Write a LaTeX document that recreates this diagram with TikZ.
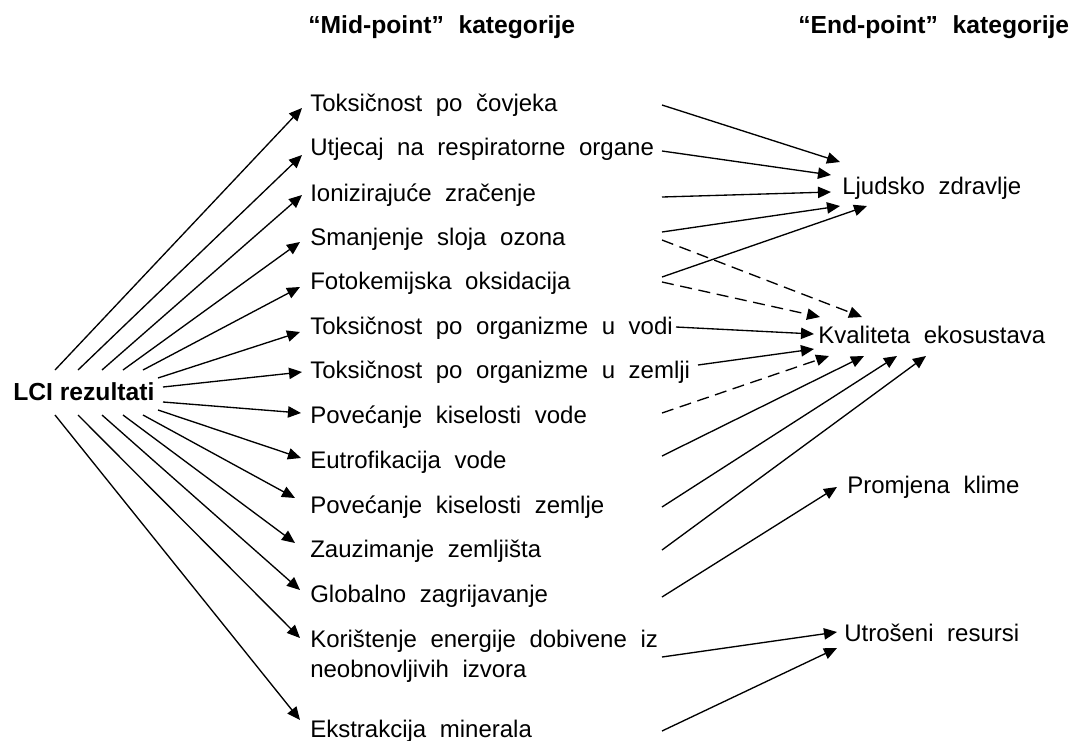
\documentclass[tikz,border=0pt]{standalone}
\usepackage{fontspec}
\setmainfont{Liberation Sans}
\usetikzlibrary{arrows.meta}
\newcommand\mybodyfont{\fontsize{18}{22.5}\selectfont\spaceskip 10.2pt\relax}
\newcommand\myheadfont{\fontsize{18.5}{22}\selectfont\bfseries\spaceskip 11pt\relax}
\tikzset{
  body/.style={anchor=base west, inner sep=0pt, font=\mybodyfont},
  head/.style={anchor=base west, inner sep=0pt, font=\myheadfont},
  arr/.style={line width=1pt, -{Triangle[length=9.75pt,width=8.5pt]}},
  dsh/.style={arr, dash pattern=on 9pt off 5pt}
}
\begin{document}
\begin{tikzpicture}[x=0.75pt,y=-0.75pt]
\useasboundingbox (0,0) rectangle (1072,740);
% headings
\node[head] (h1) at (308,33) {“Mid-point” kategorije};
\node[head] (h2) at (798,33) {“End-point” kategorije};
% LCI
\node[anchor=base west, inner sep=0pt, font=\fontsize{18.5}{22}\selectfont\bfseries] (lci) at (13,400) {LCI rezultati};
% mid-point nodes
\node[body] (m1) at (310,111) {Toksičnost po čovjeka};
\node[body] (m2) at (310,155) {Utjecaj na respiratorne organe};
\node[body] (m3) at (310,201) {Ionizirajuće zračenje};
\node[body] (m4) at (310,245) {Smanjenje sloja ozona};
\node[body] (m5) at (310,289) {Fotokemijska oksidacija};
\node[body] (m6) at (310,334) {Toksičnost po organizme u vodi};
\node[body] (m7) at (310,378) {Toksičnost po organizme u zemlji};
\node[body] (m8) at (310,423) {Povećanje kiselosti vode};
\node[body] (m9) at (310,468) {Eutrofikacija vode};
\node[body] (m10) at (310,513) {Povećanje kiselosti zemlje};
\node[body] (m11) at (310,557) {Zauzimanje zemljišta};
\node[body] (m12) at (310,602) {Globalno zagrijavanje};
\node[body, align=left] (m13) at (310,677) {Korištenje energije dobivene iz\\neobnovljivih izvora};
\node[body] (m14) at (310,737) {Ekstrakcija minerala};
% end-point nodes
\node[body] (e1) at (842,194) {Ljudsko zdravlje};
\node[body] (e2) at (818,343) {Kvaliteta ekosustava};
\node[body] (e3) at (847,493) {Promjena klime};
\node[body] (e4) at (844,641) {Utrošeni resursi};
% LCI -> mid-points
\draw[arr] ([shift={(42,-30)}]lci.base west) -- ([shift={(-8,-3)}]m1.base west);
\draw[arr] ([shift={(65,-30)}]lci.base west) -- ([shift={(-8,0)}]m2.base west);
\draw[arr] ([shift={(89,-30)}]lci.base west) -- ([shift={(-8,-6)}]m3.base west);
\draw[arr] ([shift={(110,-30)}]lci.base west) -- ([shift={(-10,-3)}]m4.base west);
\draw[arr] ([shift={(130,-30)}]lci.base west) -- ([shift={(-10,-2)}]m5.base west);
\draw[arr] ([shift={(145,-22)}]lci.base west) -- ([shift={(-10,-2)}]m6.base west);
\draw[arr] ([shift={(150,-13)}]lci.base west) -- ([shift={(-8,-6)}]m7.base west);
\draw[arr] ([shift={(150,2)}]lci.base west) -- ([shift={(-9,-10)}]m8.base west);
\draw[arr] ([shift={(145,10)}]lci.base west) -- ([shift={(-9,-10)}]m9.base west);
\draw[arr] ([shift={(130,15)}]lci.base west) -- ([shift={(-15,-15)}]m10.base west);
\draw[arr] ([shift={(110,15)}]lci.base west) -- ([shift={(-15,-14)}]m11.base west);
\draw[arr] ([shift={(89,15)}]lci.base west) -- ([shift={(-10,-12)}]m12.base west);
\draw[arr] ([shift={(65,15)}]lci.base west) -- ([shift={(-10,-39)}]m13.base west);
\draw[arr] ([shift={(42,15)}]lci.base west) -- ([shift={(-10,-17)}]m14.base west);
% mid-points -> Ljudsko zdravlje
\draw[arr] ([shift={(352,-6)}]m1.base west) -- ([shift={(-2,-32)}]e1.base west);
\draw[arr] ([shift={(352,-4)}]m2.base west) -- ([shift={(-11,-19)}]e1.base west);
\draw[arr] ([shift={(352,-4)}]m3.base west) -- ([shift={(-11,-2)}]e1.base west);
\draw[arr] ([shift={(352,-13)}]m4.base west) -- ([shift={(-2,12)}]e1.base west);
\draw[arr] ([shift={(352,-12)}]m5.base west) -- ([shift={(25,12)}]e1.base west);
% mid-points -> Kvaliteta ekosustava
\draw[dsh] ([shift={(352,-5)}]m4.base west) -- ([shift={(44,-26)}]e2.base west);
\draw[dsh] ([shift={(352,-7)}]m5.base west) -- ([shift={(2,-26)}]e2.base west);
\draw[arr] ([shift={(366,-7)}]m6.base west) -- ([shift={(-4,-9)}]e2.base west);
\draw[arr] ([shift={(388,-13)}]m7.base west) -- ([shift={(-4,6)}]e2.base west);
\draw[dsh] ([shift={(352,-10)}]m8.base west) -- ([shift={(11,13)}]e2.base west);
\draw[arr] ([shift={(352,-12)}]m9.base west) -- ([shift={(46,13)}]e2.base west);
\draw[arr] ([shift={(352,-6)}]m10.base west) -- ([shift={(79,13)}]e2.base west);
\draw[arr] ([shift={(352,-7)}]m11.base west) -- ([shift={(108,13)}]e2.base west);
% -> Promjena klime
\draw[arr] ([shift={(352,-5)}]m12.base west) -- ([shift={(-10,-6)}]e3.base west);
% -> Utroseni resursi
\draw[arr] ([shift={(352,-20)}]m13.base west) -- ([shift={(-7,-9)}]e4.base west);
\draw[arr] ([shift={(352,-6)}]m14.base west) -- ([shift={(-7,7)}]e4.base west);
\end{tikzpicture}
\end{document}
